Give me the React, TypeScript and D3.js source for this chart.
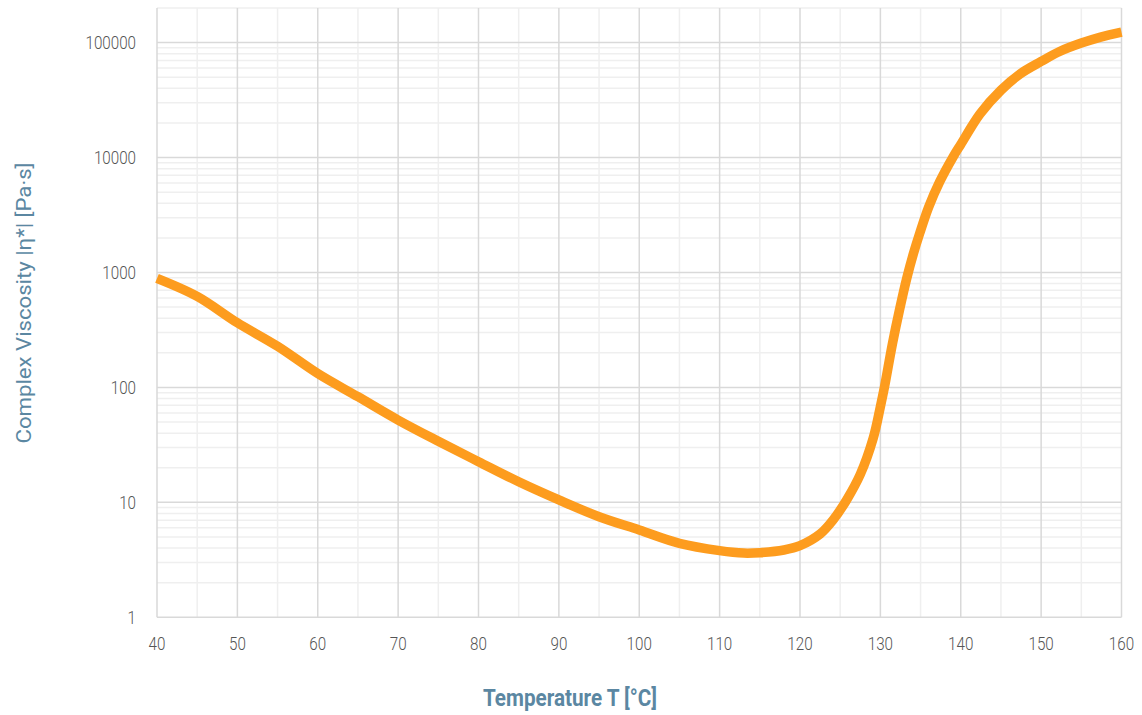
import React, { useEffect, useRef } from 'react';
import * as d3 from 'd3';

// temperature (°C) and complex viscosity (Pa·s)
const temperature = [40, 45, 50, 55, 60, 65, 70, 75, 80, 85, 90, 95, 100, 105, 110, 113, 115, 118, 120, 122.5, 124.1, 125.8, 127.5, 129.1, 130, 130.5, 131.5, 132.4, 133.3, 134.1, 134.9, 136, 137.4, 139, 140, 142.4, 145, 147.4, 150, 152.3, 155, 157.4, 160];
const viscosity = [890, 620, 365, 228, 132, 83, 52, 34, 22.6, 15.1, 10.5, 7.5, 5.75, 4.4, 3.8, 3.62, 3.65, 3.85, 4.2, 5.3, 7.0, 10.5, 17.5, 36, 68, 100, 240, 480, 900, 1450, 2200, 3700, 6200, 10000, 13000, 24000, 38500, 53500, 68500, 83700, 99000, 111700, 123400];

const xTicks = [40, 50, 60, 70, 80, 90, 100, 110, 120, 130, 140, 150, 160];
const yTicks = [1, 10, 100, 1000, 10000, 100000];

const App: React.FC = () => {
  const ref = useRef<SVGSVGElement | null>(null);

  useEffect(() => {
    if (!ref.current) return;
    const W = 1142, H = 715;
    const left = 157, right = 1121.5, top = 8, bottom = 617.3;

    const svg = d3.select(ref.current);
    svg.selectAll('*').remove();
    svg.attr('width', W).attr('height', H);

    const x = d3.scaleLinear().domain([40, 160]).range([left, right]);
    const y = d3.scaleLog().domain([1, 200000]).range([bottom, top]);

    const grid = svg.append('g');

    // minor horizontal lines
    const minorY: number[] = [];
    for (let d = 1; d <= 100000; d *= 10) {
      for (let k = 2; k <= 9; k++) if (d * k <= 200000) minorY.push(d * k);
    }
    grid.selectAll('line.my').data(minorY).join('line')
      .attr('x1', left).attr('x2', right)
      .attr('y1', d => y(d)).attr('y2', d => y(d))
      .attr('stroke', '#efefef').attr('stroke-width', 1.5);

    // minor vertical lines
    const minorX = d3.range(45, 160, 10);
    grid.selectAll('line.mx').data(minorX).join('line')
      .attr('x1', d => x(d)).attr('x2', d => x(d))
      .attr('y1', top).attr('y2', bottom)
      .attr('stroke', '#efefef').attr('stroke-width', 1.5);

    // major lines
    grid.selectAll('line.My').data(yTicks).join('line')
      .attr('x1', left).attr('x2', right)
      .attr('y1', d => y(d)).attr('y2', d => y(d))
      .attr('stroke', '#d9d9d9').attr('stroke-width', 1.5);
    grid.selectAll('line.Mx').data(xTicks).join('line')
      .attr('x1', d => x(d)).attr('x2', d => x(d))
      .attr('y1', top).attr('y2', bottom)
      .attr('stroke', '#d9d9d9').attr('stroke-width', 1.5);

    // tick labels
    svg.append('g').selectAll('text').data(yTicks).join('text')
      .attr('transform', d => `translate(136,${y(d)}) scale(0.8,1)`)
      .attr('dy', '0.36em')
      .attr('text-anchor', 'end')
      .attr('font-family', 'Roboto, sans-serif')
      .attr('font-weight', 300)
      .attr('font-size', 19)
      .attr('fill', '#555')
      .text(d => String(d));

    svg.append('g').selectAll('text').data(xTicks).join('text')
      .attr('transform', d => `translate(${x(d)},650) scale(0.8,1)`)
      .attr('text-anchor', 'middle')
      .attr('font-family', 'Roboto, sans-serif')
      .attr('font-weight', 300)
      .attr('font-size', 19)
      .attr('fill', '#555')
      .text(d => String(d));

    // curve
    const pts = temperature.map((t, i) => [t, viscosity[i]] as [number, number]);
    const line = d3.line<[number, number]>()
      .x(d => x(d[0]))
      .y(d => y(d[1]))
      .curve(d3.curveCatmullRom.alpha(0.5));
    svg.append('path')
      .attr('d', line(pts) || '')
      .attr('fill', 'none')
      .attr('stroke', '#fd9c1e')
      .attr('stroke-width', 9.5)
      .attr('stroke-linejoin', 'round');

    // axis titles
    svg.append('text')
      .attr('transform', `translate(31,303) rotate(-90)`)
      .attr('text-anchor', 'middle')
      .attr('font-family', 'Roboto, sans-serif')
      .attr('font-size', 21)
      .attr('fill', '#5b87a2')
      .attr('textLength', 281)
      .attr('lengthAdjust', 'spacingAndGlyphs')
      .text('Complex Viscosity |η*| [Pa·s]');

    svg.append('text')
      .attr('x', 570)
      .attr('y', 706)
      .attr('text-anchor', 'middle')
      .attr('font-family', 'Roboto, sans-serif')
      .attr('font-weight', 700)
      .attr('font-size', 23)
      .attr('fill', '#5b87a2')
      .attr('textLength', 174)
      .attr('lengthAdjust', 'spacingAndGlyphs')
      .text('Temperature T [°C]');
  }, []);

  return (
    <svg ref={ref} style={{ position: 'absolute', left: 0, top: 0, background: '#fff' }}></svg>
  );
};

export default App;
